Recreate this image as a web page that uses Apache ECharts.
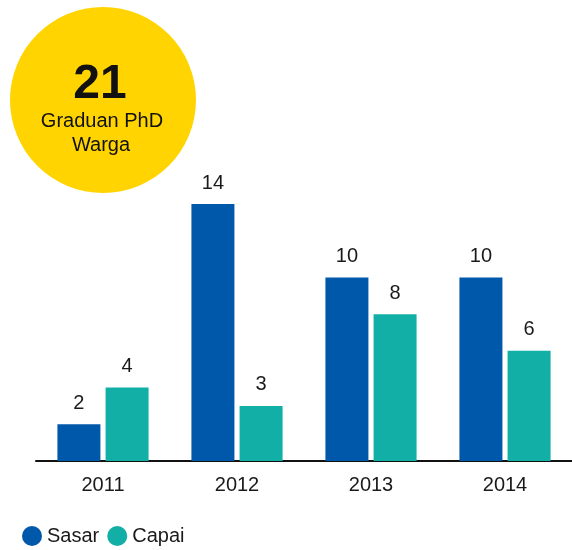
<!DOCTYPE html>
<html>
<head>
<meta charset="utf-8">
<script src="https://cdn.jsdelivr.net/npm/echarts@6/dist/echarts.min.js"></script>
<style>
  html, body { margin: 0; padding: 0; background: #fff; }
  #chart { width: 572px; height: 550px; }
</style>
</head>
<body>
<div id="chart"></div>
<script>
const years = ['2011', '2012', '2013', '2014']
const sasar = [2, 14, 10, 10]
const capai = [4, 3, 8, 6]
const total = '21'

const font = '"Liberation Sans", Arial, Helvetica, sans-serif'
const chart = echarts.init(document.getElementById('chart'))

const option = {
  animation: false,
  textStyle: { fontFamily: font },
  grid: { left: 36, right: -1, top: 204, bottom: 89 },
  legend: {
    data: ['Sasar', 'Capai'],
    left: 17,
    top: 521,
    icon: 'circle',
    itemWidth: 20,
    itemHeight: 20,
    itemGap: 8,
    textStyle: { color: '#1a1a1a', fontSize: 20, fontFamily: font }
  },
  xAxis: {
    type: 'category',
    data: years,
    axisLine: { lineStyle: { color: '#111', width: 2 } },
    axisTick: { show: false },
    axisLabel: { color: '#1a1a1a', fontSize: 20, margin: 14, fontFamily: font }
  },
  yAxis: {
    type: 'value',
    min: 0,
    max: 14,
    show: false
  },
  series: [
    {
      name: 'Sasar',
      type: 'bar',
      data: sasar,
      barWidth: 43,
      barGap: '12%',
      itemStyle: { color: '#0058AA' },
      label: { show: true, position: 'top', distance: 11, color: '#1a1a1a', fontSize: 20, fontFamily: font }
    },
    {
      name: 'Capai',
      type: 'bar',
      data: capai,
      barWidth: 43,
      itemStyle: { color: '#11AFA6' },
      label: { show: true, position: 'top', distance: 11, color: '#1a1a1a', fontSize: 20, fontFamily: font }
    }
  ],
  graphic: [
    { type: 'circle', shape: { cx: 103, cy: 100, r: 93 }, style: { fill: '#FFD400' }, z: 10 },
    { type: 'text', x: 100, y: 85, z: 11,
      style: { text: total, fill: '#111', font: 'bold 48px ' + font, textAlign: 'center', textVerticalAlign: 'middle' } },
    { type: 'text', x: 102, y: 121, z: 11,
      style: { text: 'Graduan PhD', fill: '#111', font: '20px ' + font, textAlign: 'center', textVerticalAlign: 'middle' } },
    { type: 'text', x: 101, y: 145, z: 11,
      style: { text: 'Warga', fill: '#111', font: '20px ' + font, textAlign: 'center', textVerticalAlign: 'middle' } }
  ]
}

chart.setOption(option)
</script>
</body>
</html>
